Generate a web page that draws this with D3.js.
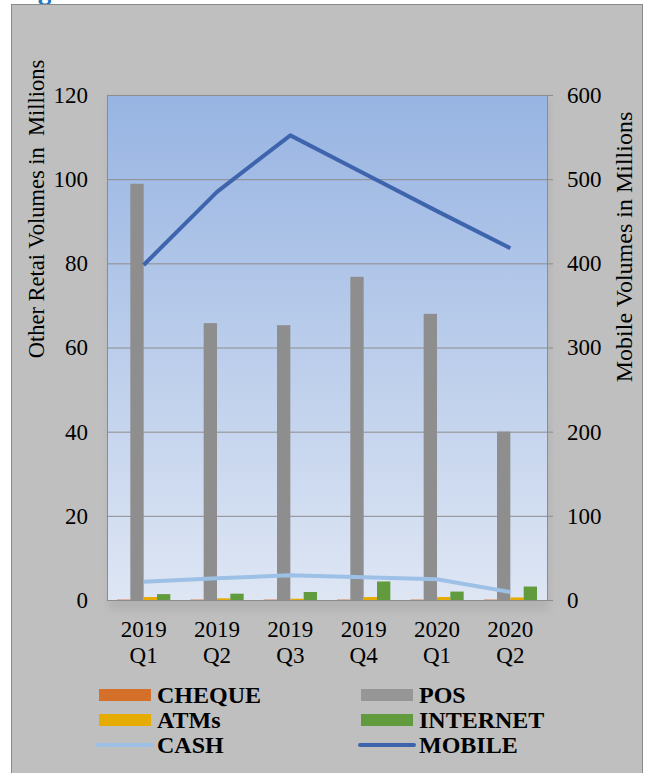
<!DOCTYPE html>
<html>
<head>
<meta charset="utf-8">
<script src="https://cdn.jsdelivr.net/npm/d3@7"></script>
<style>
  html, body { margin: 0; padding: 0; background: #ffffff; }
  svg { display: block; }
  text { font-family: "Liberation Serif", "Times New Roman", serif; fill: #000; }
</style>
</head>
<body>
<svg id="chart" width="646" height="773"></svg>
<script>
// Quarterly retail payment volumes (millions)
const quarters = ["2019 Q1", "2019 Q2", "2019 Q3", "2019 Q4", "2020 Q1", "2020 Q2"];
const barSeries = ["CHEQUE", "POS", "ATMs", "INTERNET"];
const cheque   = [0.1, 0.1, 0.1, 0.1, 0.1, 0.1];
const pos      = [98.9, 65.8, 65.3, 76.8, 68.0, 40.0];
const atms     = [0.7, 0.4, 0.3, 0.7, 0.7, 0.6];
const internet = [1.4, 1.5, 1.9, 4.4, 2.0, 3.2];
// Lines plotted against the secondary (right) axis
const cash     = [21.7, 25.8, 29.3, 27.0, 24.6, 9.5];
const mobile   = [398, 485, 552, 507, 462, 418];

const leftTicks  = [0, 20, 40, 60, 80, 100, 120];
const rightTicks = [0, 100, 200, 300, 400, 500, 600];
const legendItems = ["CHEQUE", "POS", "ATMs", "INTERNET", "CASH", "MOBILE"];

const colors = {
  CHEQUE: "#d5702b", POS: "#8e8e8e", ATMs: "#e5ab00", INTERNET: "#629b3d",
  CASH: "#9dc0e6", MOBILE: "#3e64ae"
};
const legendSwatch = { POS: "#969696" };

const svg = d3.select("#chart");

// Figure caption above the frame (only its descender is within view)
svg.append("text")
  .attr("x", 16).attr("y", -1)
  .style("font-family", "Cambria, 'Liberation Serif', serif")
  .style("font-weight", "bold").style("font-size", "26px")
  .style("fill", "#1f78c8")
  .text("Figure");

// Chart frame
svg.append("rect")
  .attr("x", 11.5).attr("y", 4.5)
  .attr("width", 631).attr("height", 780)
  .attr("fill", "#bfbfbf").attr("stroke", "#8a8a8a").attr("stroke-width", 1);

const plot = { left: 107, right: 547, top: 95, bottom: 600 };

const x = d3.scaleBand().domain(quarters).range([plot.left, plot.right]).padding(0);
const xInner = d3.scaleBand().domain(barSeries)
  .range([0, x.bandwidth()]).paddingInner(0).paddingOuter(0.75);
const yL = d3.scaleLinear().domain([0, 120]).range([plot.bottom, plot.top]);
const yR = d3.scaleLinear().domain([0, 600]).range([plot.bottom, plot.top]);

// Plot area background gradient
const defs = svg.append("defs");
const grad = defs.append("linearGradient").attr("id", "plotBg")
  .attr("x1", 0).attr("y1", 0).attr("x2", 0).attr("y2", 1);
grad.append("stop").attr("offset", "0%").attr("stop-color", "#97b4e2");
grad.append("stop").attr("offset", "100%").attr("stop-color", "#dee6f4");

const shadow = defs.append("filter").attr("id", "soft")
  .attr("x", "-5%").attr("y", "-5%").attr("width", "110%").attr("height", "110%");
shadow.append("feGaussianBlur").attr("stdDeviation", 4);

svg.append("rect")
  .attr("x", plot.left + 2).attr("y", plot.top + 4)
  .attr("width", plot.right - plot.left).attr("height", plot.bottom - plot.top + 6)
  .attr("fill", "#a9a9a9").attr("opacity", 0.6).attr("filter", "url(#soft)");

svg.append("rect")
  .attr("x", plot.left).attr("y", plot.top)
  .attr("width", plot.right - plot.left).attr("height", plot.bottom - plot.top)
  .attr("fill", "url(#plotBg)");

// Gridlines
svg.append("g")
  .attr("transform", `translate(${plot.left},0)`)
  .call(d3.axisLeft(yL).tickValues(leftTicks).tickSize(-(plot.right - plot.left)).tickFormat(""))
  .call(g => g.select(".domain").remove())
  .call(g => g.selectAll("line").attr("stroke", "#8c8c8c").attr("stroke-width", 1));

// Left axis
const axL = svg.append("g")
  .attr("transform", `translate(${plot.left},0)`)
  .call(d3.axisLeft(yL).tickValues(leftTicks).tickSize(0).tickPadding(19));
axL.select(".domain").attr("stroke", "#8c8c8c");
axL.selectAll("text").style("font-size", "23px")
  .style("font-family", "'Liberation Serif', serif").attr("fill", "#000");

// Right axis
const axR = svg.append("g")
  .attr("transform", `translate(${plot.right},0)`)
  .call(d3.axisRight(yR).tickValues(rightTicks).tickSize(6).tickPadding(14));
axR.select(".domain").attr("stroke", "#8c8c8c");
axR.selectAll("line").attr("stroke", "#8c8c8c");
axR.selectAll("text").style("font-size", "23px")
  .style("font-family", "'Liberation Serif', serif").attr("fill", "#000");

// Bars
const barData = { CHEQUE: cheque, POS: pos, ATMs: atms, INTERNET: internet };
const groups = svg.append("g").selectAll("g")
  .data(quarters).join("g")
  .attr("transform", d => `translate(${x(d)},0)`);
groups.selectAll("rect")
  .data((q, i) => barSeries.map(s => ({ s, v: barData[s][i] })))
  .join("rect")
  .attr("x", d => xInner(d.s))
  .attr("width", xInner.bandwidth())
  .attr("y", d => yL(d.v))
  .attr("height", d => yL(0) - yL(d.v))
  .attr("fill", d => colors[d.s]);

// Lines
const line = d3.line()
  .x((d, i) => x(quarters[i]) + x.bandwidth() / 2)
  .y(d => yR(d));
svg.append("path").datum(cash).attr("d", line)
  .attr("fill", "none").attr("stroke", colors.CASH)
  .attr("stroke-width", 4).attr("stroke-linejoin", "round");
svg.append("path").datum(mobile).attr("d", line)
  .attr("fill", "none").attr("stroke", colors.MOBILE)
  .attr("stroke-width", 4).attr("stroke-linejoin", "round");

// Category labels on two lines
const xLab = svg.append("g");
quarters.forEach(q => {
  const [yr, qt] = q.split(" ");
  const cx = x(q) + x.bandwidth() / 2;
  const t = xLab.append("text").attr("text-anchor", "middle").style("font-size", "23px");
  t.append("tspan").attr("x", cx).attr("y", 637).text(yr);
  t.append("tspan").attr("x", cx).attr("y", 663).text(qt);
});

// Axis titles
svg.append("text")
  .attr("transform", "translate(44,209) rotate(-90)")
  .attr("text-anchor", "middle").style("font-size", "22.5px")
  .attr("xml:space", "preserve")
  .text("Other Retai Volumes in  Millions");
svg.append("text")
  .attr("transform", "translate(632,247) rotate(-90)")
  .attr("text-anchor", "middle").style("font-size", "24px")
  .text("Mobile Volumes in Millions");

// Legend: two columns, three rows
const legend = svg.append("g");
const colX = [99, 361];
const rowY = [695, 720, 745];
legendItems.forEach((name, i) => {
  const cx = colX[i % 2];
  const cy = rowY[Math.floor(i / 2)];
  const item = legend.append("g");
  if (name === "CASH" || name === "MOBILE") {
    item.append("line")
      .attr("x1", cx - 1).attr("x2", cx + 53)
      .attr("y1", cy).attr("y2", cy)
      .attr("stroke", colors[name]).attr("stroke-width", 4)
      .attr("stroke-linecap", "round");
  } else {
    item.append("rect")
      .attr("x", cx).attr("y", cy - 6)
      .attr("width", 52).attr("height", 12)
      .attr("fill", legendSwatch[name] || colors[name]);
  }
  item.append("text")
    .attr("x", cx + 58).attr("y", cy + 8)
    .style("font-size", "24px").style("font-weight", "bold")
    .text(name);
});
</script>
</body>
</html>
